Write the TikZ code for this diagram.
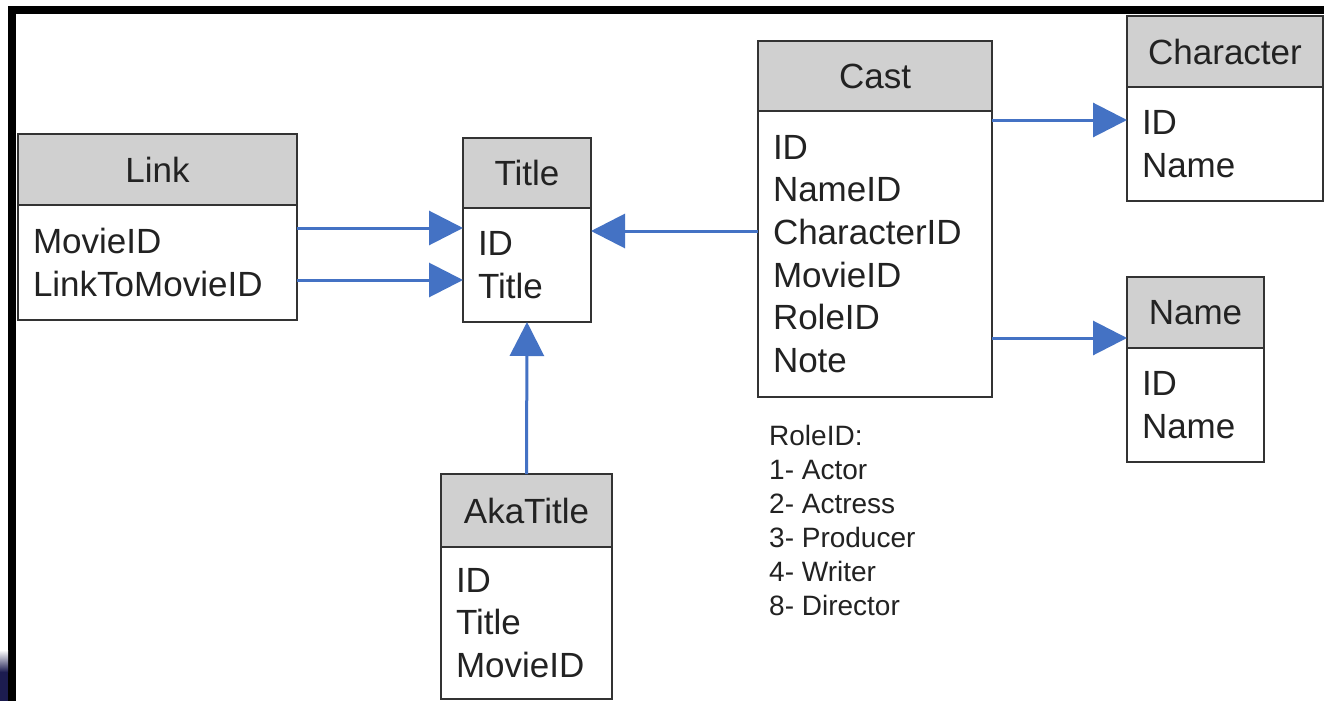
\documentclass[tikz,border=0pt]{standalone}
\usepackage{fontspec}
\setmainfont{Liberation Sans}
\usetikzlibrary{arrows.meta}
\definecolor{hdr}{RGB}{208,208,208}
\definecolor{edge}{RGB}{51,51,51}
\definecolor{ink}{RGB}{34,34,34}
\definecolor{relblue}{RGB}{68,114,196}
\definecolor{navy}{RGB}{28,28,80}

\tikzset{
  head/.style={draw=edge, line width=2pt, fill=hdr, anchor=north west,
    inner sep=0pt, outer sep=0pt, text=ink, font=\fontsize{35}{42.7}\selectfont},
  body/.style={draw=edge, line width=2pt, fill=white, anchor=north west,
    inner xsep=15pt, inner ysep=0pt, outer sep=0pt, align=left, text=ink,
    font=\fontsize{35}{42.7}\selectfont},
  rel/.style={draw=relblue, line width=3pt, -{Triangle[length=34pt,width=34pt]}},
  legend/.style={anchor=north west, inner sep=0pt, align=left, text=ink,
    font=\fontsize{28}{34}\selectfont},
}

\begin{document}
\begin{tikzpicture}[x=1pt, y=-1pt]
  \useasboundingbox (0,0) rectangle (1324,701);
  \fill[white] (0,0) rectangle (1324,701);

  % window frame
  \fill[black] (8,6) rectangle (1324,14);
  \fill[black] (8,6) rectangle (16,701);
  \shade[top color=white, bottom color=navy] (0,650) rectangle (8,672);
  \fill[navy] (0,672) rectangle (8,701);

  % Link
  \node[head, minimum width=279pt, minimum height=71pt] (lk) at (18,134) {Link};
  \node[body, text width=249pt, minimum height=115pt] (lk-b) at (lk.south west) {MovieID\\LinkToMovieID};

  % Title
  \node[head, minimum width=128pt, minimum height=70pt] (ti) at (463,138) {Title};
  \node[body, text width=98pt, minimum height=114pt] (ti-b) at (ti.south west) {ID\\Title};

  % Cast
  \node[head, minimum width=234pt, minimum height=70pt] (ca) at (758,41) {Cast};
  \node[body, text width=204pt, minimum height=286pt] (ca-b) at (ca.south west)
    {ID\\NameID\\CharacterID\\MovieID\\RoleID\\Note};

  % Character
  \node[head, minimum width=196pt, minimum height=71pt] (ch) at (1127,16) {Character};
  \node[body, text width=166pt, minimum height=114pt] (ch-b) at (ch.south west) {ID\\Name};

  % Name
  \node[head, minimum width=137pt, minimum height=71pt] (nm) at (1127,277) {Name};
  \node[body, text width=107pt, minimum height=114pt] (nm-b) at (nm.south west) {ID\\Name};

  % AkaTitle
  \node[head, minimum width=171pt, minimum height=73pt] (ak) at (441,474) {AkaTitle};
  \node[body, text width=141pt, minimum height=152pt] (ak-b) at (ak.south west) {ID\\Title\\MovieID};

  % role codes
  \node[legend] (roles) at (769,425)
    {RoleID:\\1- Actor\\2- Actress\\3- Producer\\4- Writer\\8- Director};

  % relations
  \draw[rel] ([yshift=-23pt]lk-b.north east) -- ([yshift=-23pt]lk-b.north east -| ti-b.west);
  \draw[rel] ([yshift=-75pt]lk-b.north east) -- ([yshift=-75pt]lk-b.north east -| ti-b.west);
  \draw[rel] ([yshift=-120pt]ca-b.north west) -- ([yshift=-120pt]ca-b.north west -| ti-b.east);
  \draw[rel] ([yshift=-9pt]ca-b.north east) -- ([yshift=-9pt]ca-b.north east -| ch-b.west);
  \draw[rel] ([yshift=-227pt]ca-b.north east) -- ([yshift=-227pt]ca-b.north east -| nm.west);
  \draw[rel] (ak.north) -- (ti-b.south);
\end{tikzpicture}
\end{document}
